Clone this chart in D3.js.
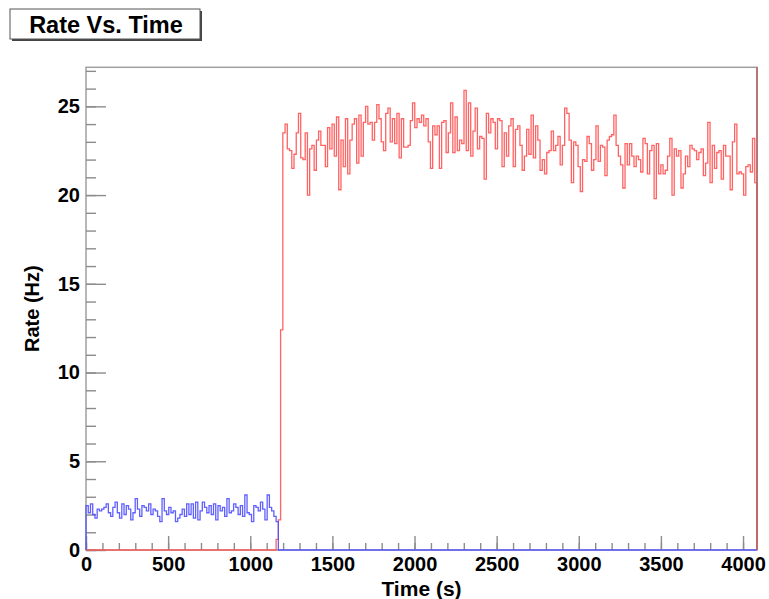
<!DOCTYPE html>
<html>
<head>
<meta charset="utf-8">
<script src="https://cdn.jsdelivr.net/npm/d3@7"></script>
<style>
  html, body { margin: 0; padding: 0; background: #ffffff; }
  svg { display: block; font-family: "Liberation Sans", Arial, Helvetica, sans-serif; }
  .tick text { font-weight: bold; font-size: 20px; fill: #000; }
</style>
</head>
<body>
<svg id="chart" width="769" height="599"></svg>
<script>
// Histogram binning: 300 equal bins over the time axis
const timeMax = 4085;
const nBins = 300;

// Rate before the change (blue), bins 0..85
const blueRate = [
  2.5, 2.1, 2.6, 2.0, 1.8, 2.3, 2.2, 2.3, 2.4, 2.6,
  2.1, 1.9, 2.4, 2.7, 2.1, 1.8, 2.6, 2.0, 2.5, 2.3,
  1.7, 2.1, 2.9, 2.3, 1.9, 2.5, 2.4, 2.2, 2.6, 2.0,
  2.3, 2.2, 1.9, 1.6, 2.9, 2.2, 2.0, 2.4, 2.1, 2.2,
  1.6, 1.8, 2.0, 2.3, 1.9, 2.6, 2.0, 2.6, 1.8, 2.7,
  1.7, 2.2, 2.7, 2.4, 2.1, 2.5, 2.0, 2.6, 1.7, 2.5,
  2.2, 2.4, 1.9, 2.9, 2.1, 2.2, 2.6, 2.4, 2.0, 2.5,
  1.9, 3.1, 2.1, 2.0, 1.6, 2.5, 2.4, 2.2, 2.7, 2.3,
  1.7, 3.1, 2.4, 2.2, 1.9, 1.6
];
const blueStartBin = 0;

// Rate after the change (red), starting at bin 85
const redRate = [
  0.6, 1.7, 12.4,
  23.5, 24.0, 22.6, 22.5, 21.5, 22.3, 23.5, 24.6, 22.1, 22.0,
  23.5, 20.0, 22.6, 22.8, 21.4, 23.1, 23.6, 22.8, 22.8, 21.6,
  23.8, 22.6, 24.0, 22.2, 24.4, 20.3, 23.1, 21.6, 24.3, 21.2,
  23.1, 24.0, 24.3, 21.8, 24.5, 22.2, 24.1, 25.0, 24.0, 24.1,
  23.1, 24.1, 25.1, 24.3, 23.0, 22.5, 24.6, 24.9, 23.0, 24.3,
  22.9, 24.6, 22.1, 24.3, 22.7, 22.7, 22.8, 24.2, 25.2, 23.8,
  24.3, 24.1, 24.5, 23.9, 24.3, 23.0, 21.5, 23.9, 23.4, 23.9,
  21.5, 24.1, 24.2, 22.4, 23.5, 25.2, 22.4, 24.4, 22.5, 23.1,
  22.9, 25.9, 22.5, 25.2, 22.2, 23.6, 24.9, 22.6, 23.3, 23.2,
  20.9, 24.6, 23.5, 24.3, 24.1, 22.6, 24.3, 24.2, 21.6, 23.5,
  22.2, 23.9, 24.3, 21.6, 23.7, 23.9, 22.8, 21.4, 22.2, 23.7,
  22.3, 24.5, 22.1, 23.9, 23.1, 21.4, 22.0, 21.2, 22.4, 22.5,
  23.6, 22.5, 22.8, 23.3, 21.7, 22.8, 24.9, 24.6, 23.1, 20.7,
  23.0, 22.8, 21.6, 20.2, 22.0, 21.9, 23.3, 22.9, 21.4, 22.0,
  23.9, 21.9,
  22.8, 22.7, 21.1, 23.1, 23.3, 23.4, 24.5, 22.8, 22.2, 21.7,
  20.4, 22.9, 21.7, 22.9, 22.2, 21.6, 22.2, 22.0, 21.3, 23.2,
  22.9, 21.2, 22.5, 22.8, 19.8, 22.9, 21.2, 21.7, 21.2, 21.4,
  22.2, 23.2, 20.0, 22.6, 22.2, 22.5, 20.4, 21.2, 22.2, 21.6,
  22.8, 22.6, 22.5, 22.0, 22.4, 22.6, 21.1, 21.8, 24.1, 20.7,
  22.8, 21.5, 22.4, 22.5, 20.9, 22.8, 22.2, 22.2, 20.3, 23.0,
  24.0, 21.2, 21.3, 21.2, 20.0, 21.6, 21.7, 21.3, 23.2, 20.7
];
const redStartBin = 85;

// Axis ticks
const xMajorTicks = [0, 500, 1000, 1500, 2000, 2500, 3000, 3500, 4000];
const xMinorTicks = d3.range(0, 4001, 100);
const yMajorTicks = [0, 5, 10, 15, 20, 25];
const yMinorTicks = d3.range(0, 28, 1);

const titleText = "Rate Vs. Time";
const xTitle = "Time (s)";
const yTitle = "Rate (Hz)";

const frame = { left: 86, right: 757, top: 67.3, bottom: 550 };
const binWidth = timeMax / nBins;

const x = d3.scaleLinear().domain([0, timeMax]).range([frame.left, frame.right]);
const y = d3.scaleLinear().domain([0, 27.2]).range([frame.bottom, frame.top]);

const svg = d3.select("#chart");

// Histogram outline: vertical edges between bins, flat tops, zero outside the filled range
function outline(values, startBin) {
  const pts = [[0, 0]];
  const t0 = startBin * binWidth;
  pts.push([t0, 0]);
  values.forEach((v, i) => {
    const a = (startBin + i) * binWidth;
    const b = a + binWidth;
    pts.push([a, v], [b, v]);
  });
  const tEnd = (startBin + values.length) * binWidth;
  pts.push([tEnd, 0], [timeMax, 0]);
  return pts;
}

const line = d3.line().x(d => x(d[0])).y(d => y(d[1]));

svg.append("defs").append("clipPath").attr("id", "plotclip")
  .append("rect")
  .attr("x", frame.left - 1).attr("y", frame.top - 1)
  .attr("width", frame.right - frame.left + 2)
  .attr("height", frame.bottom - frame.top + 2);

// Frame
svg.append("rect")
  .attr("x", frame.left).attr("y", frame.top)
  .attr("width", frame.right - frame.left)
  .attr("height", frame.bottom - frame.top)
  .attr("fill", "none")
  .attr("stroke", "#a0a0a0")
  .attr("stroke-width", 1.5);

// Axes with ticks drawn inside the frame
const yAxisMinor = d3.axisLeft(y).tickValues(yMinorTicks).tickSize(-10).tickFormat("");
const yAxisMajor = d3.axisLeft(y).tickValues(yMajorTicks).tickSize(-20).tickPadding(6).tickFormat(d3.format("d"));
const xAxisMinor = d3.axisBottom(x).tickValues(xMinorTicks).tickSize(-7).tickFormat("");
const xAxisMajor = d3.axisBottom(x).tickValues(xMajorTicks).tickSize(-14).tickPadding(7).tickFormat(d3.format("d"));

function styleAxis(g) {
  g.select(".domain").remove();
  g.selectAll(".tick line").attr("stroke", "#8c8c8c").attr("stroke-width", 1.4);
  g.selectAll(".tick text").attr("font-family", null).attr("font-size", null);
}

svg.append("g").attr("transform", `translate(${frame.left},0)`).call(yAxisMinor).call(styleAxis);
svg.append("g").attr("transform", `translate(${frame.left},0)`).call(yAxisMajor).call(styleAxis);
svg.append("g").attr("transform", `translate(0,${frame.bottom})`).call(xAxisMinor).call(styleAxis);
svg.append("g").attr("transform", `translate(0,${frame.bottom})`).call(xAxisMajor).call(styleAxis);

// Histograms
const plot = svg.append("g").attr("clip-path", "url(#plotclip)");
plot.append("path")
  .datum(outline(redRate, redStartBin))
  .attr("d", line)
  .attr("fill", "none")
  .attr("stroke", "#ff5252")
  .attr("stroke-width", 1.3)
  .attr("stroke-opacity", 0.9);
plot.append("path")
  .datum(outline(blueRate, blueStartBin))
  .attr("d", line)
  .attr("fill", "none")
  .attr("stroke", "#4f4fff")
  .attr("stroke-width", 1.3)
  .attr("stroke-opacity", 0.9);

// Right border carries the red histogram colour
svg.append("line")
  .attr("x1", x(timeMax)).attr("x2", x(timeMax))
  .attr("y1", frame.top).attr("y2", frame.bottom)
  .attr("stroke", "#b86666")
  .attr("stroke-width", 1.6);

// Axis titles
svg.append("text")
  .attr("x", (frame.left + frame.right) / 2)
  .attr("y", 596)
  .attr("text-anchor", "middle")
  .attr("font-weight", "bold")
  .attr("font-size", 21)
  .text(xTitle);

svg.append("text")
  .attr("transform", `translate(39,${(frame.top + frame.bottom) / 2}) rotate(-90)`)
  .attr("text-anchor", "middle")
  .attr("font-weight", "bold")
  .attr("font-size", 20)
  .text(yTitle);

// Title box with shadow
const tb = { x: 10, y: 9, w: 190, h: 30 };
svg.append("rect")
  .attr("x", tb.x + 2).attr("y", tb.y + 2)
  .attr("width", tb.w).attr("height", tb.h)
  .attr("fill", "#444");
svg.append("rect")
  .attr("x", tb.x).attr("y", tb.y)
  .attr("width", tb.w).attr("height", tb.h)
  .attr("fill", "#ffffff")
  .attr("stroke", "#555")
  .attr("stroke-width", 1);
svg.append("text")
  .attr("x", tb.x + tb.w / 2 + 1)
  .attr("y", 32.5)
  .attr("text-anchor", "middle")
  .attr("font-weight", "bold")
  .attr("font-size", 23.5)
  .text(titleText);
</script>
</body>
</html>
